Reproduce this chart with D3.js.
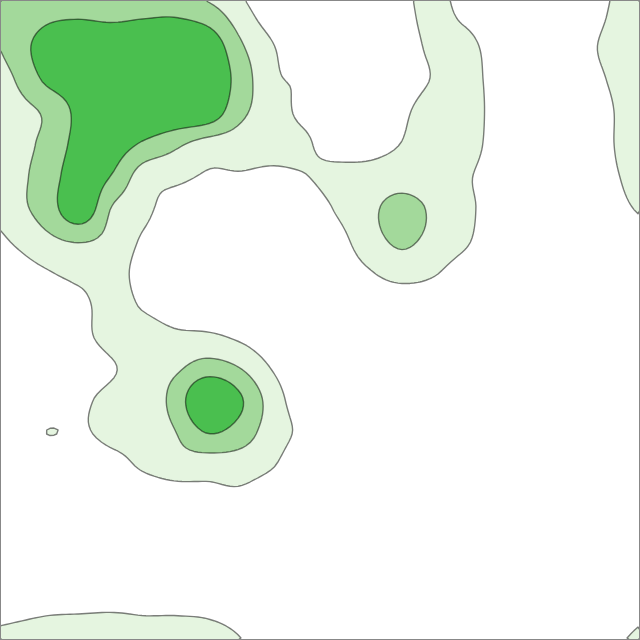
<!DOCTYPE html>
<html><head><meta charset="utf-8">
<script src="https://cdn.jsdelivr.net/npm/d3@7"></script>
<style>html,body{margin:0;padding:0;background:#fff}svg{display:block}</style>
</head><body>
<script>
const thresholds = [1, 2, 3];
const levelColors = ["#e5f5e0", "#a3d99b", "#4abf4f"];
const gridCols = 20, gridRows = 20;

const row00 = [2.3, 2.8, 2.9, 2.75, 2.9, 2.95, 2.55, 1.5, 0.5, 0.2, 0.1, 0.2, 0.5, 1.4, 0.8, 0.2, 0.1, 0.3, 0.7, 1.4];
const row01 = [2.5, 3.5, 3.8, 3.9, 4.0, 4.0, 3.8, 2.2, 1.1, 0.3, 0.1, 0.2, 0.4, 1.2, 1.4, 0.5, 0.1, 0.3, 0.9, 1.5];
const row02 = [2.05, 3.2, 3.6, 4.0, 4.0, 4.0, 3.9, 2.6, 1.2, 0.85, 0.2, 0.1, 0.3, 1.05, 1.5, 0.6, 0.1, 0.2, 0.7, 1.4];
const row03 = [1.6, 2.2, 3.3, 3.9, 4.0, 3.9, 3.7, 2.25, 1.5, 0.75, 0.3, 0.2, 0.7, 1.6, 1.7, 0.6, 0.1, 0.1, 0.4, 1.3];
const row04 = [1.6, 2.3, 3.35, 3.5, 2.85, 2.2, 1.6, 1.5, 1.4, 1.2, 0.4, 0.6, 1.0, 1.7, 1.7, 0.5, 0.1, 0.1, 0.4, 1.3];
const row05 = [1.7, 2.5, 3.6, 2.95, 1.5, 1.3, 0.88, 0.9, 0.78, 0.95, 1.4, 1.35, 1.55, 1.5, 1.2, 0.4, 0.1, 0.1, 0.4, 1.1];
const row06 = [1.7, 2.5, 3.8, 1.95, 1.3, 0.4, 0.2, 0.1, 0.1, 0.2, 1.1, 1.75, 2.3, 1.88, 1.3, 0.5, 0.1, 0.1, 0.3, 0.85];
const row07 = [1.15, 1.8, 2.1, 1.7, 0.85, 0.2, 0.1, 0.1, 0.1, 0.1, 0.6, 1.58, 2.15, 1.78, 1.2, 0.3, 0.1, 0.1, 0.1, 0.4];
const row08 = [0.5, 0.95, 1.3, 1.4, 0.6, 0.1, 0.1, 0.1, 0.1, 0.1, 0.3, 0.9, 1.45, 1.15, 0.5, 0.1, 0.1, 0.1, 0.1, 0.2];
const row09 = [0.2, 0.4, 0.75, 1.4, 0.85, 0.3, 0.1, 0.1, 0.1, 0.1, 0.1, 0.1, 0.2, 0.3, 0.1, 0.1, 0.1, 0.1, 0.1, 0.1];
const row10 = [0.1, 0.3, 0.7, 1.4, 1.5, 1.2, 1.15, 0.8, 0.3, 0.1, 0.1, 0.1, 0.1, 0.1, 0.1, 0.1, 0.1, 0.1, 0.1, 0.1];
const row11 = [0.1, 0.1, 0.3, 0.9, 1.5, 1.85, 2.45, 2.0, 0.95, 0.2, 0.1, 0.1, 0.1, 0.1, 0.1, 0.1, 0.1, 0.1, 0.1, 0.1];
const row12 = [0.1, 0.2, 0.75, 1.3, 1.4, 2.4, 4.3, 3.15, 1.55, 0.4, 0.1, 0.1, 0.1, 0.1, 0.1, 0.1, 0.1, 0.1, 0.1, 0.1];
const row13 = [0.4, 1.02, 0.85, 1.35, 1.4, 2.0, 3.07, 2.55, 1.5, 0.75, 0.1, 0.1, 0.1, 0.1, 0.1, 0.1, 0.1, 0.1, 0.1, 0.1];
const row14 = [0.1, 0.2, 0.2, 0.6, 1.2, 1.6, 1.5, 1.5, 1.1, 0.3, 0.1, 0.1, 0.1, 0.1, 0.1, 0.1, 0.1, 0.1, 0.1, 0.1];
const row15 = [0.1, 0.1, 0.1, 0.1, 0.3, 0.5, 0.7, 0.8, 0.4, 0.1, 0.1, 0.1, 0.1, 0.1, 0.1, 0.1, 0.1, 0.1, 0.1, 0.1];
const row16 = [0.2, 0.2, 0.2, 0.2, 0.2, 0.2, 0.2, 0.2, 0.1, 0.1, 0.1, 0.1, 0.1, 0.1, 0.1, 0.1, 0.1, 0.1, 0.1, 0.1];
const row17 = [0.3, 0.3, 0.3, 0.3, 0.3, 0.3, 0.3, 0.2, 0.1, 0.1, 0.1, 0.1, 0.1, 0.1, 0.1, 0.1, 0.1, 0.1, 0.1, 0.1];
const row18 = [0.5, 0.6, 0.6, 0.6, 0.6, 0.6, 0.5, 0.3, 0.1, 0.1, 0.1, 0.1, 0.1, 0.1, 0.1, 0.1, 0.1, 0.1, 0.1, 0.3];
const row19 = [1.03, 1.15, 1.2, 1.25, 1.15, 1.15, 1.1, 0.8, 0.2, 0.1, 0.1, 0.1, 0.1, 0.1, 0.1, 0.1, 0.1, 0.1, 0.3, 0.75];

const gridRowsData = [row00,row01,row02,row03,row04,row05,row06,row07,row08,row09,
                      row10,row11,row12,row13,row14,row15,row16,row17,row18,row19];

const width = 640, height = 640;
const upsample = 8;                       // rendering resolution only
const fineCols = gridCols * upsample, fineRows = gridRows * upsample;

// value lookup with linear extension past the grid edge
function rowValue(rc, c) {
  const r = gridRowsData[rc];
  if (c < 0) return r[0] + c * (r[1] - r[0]);
  if (c > gridCols - 1) return r[gridCols - 1] + (c - gridCols + 1) * (r[gridCols - 1] - r[gridCols - 2]);
  return r[c];
}
function at(r, c) {
  if (r < 0) return rowValue(0, c) + r * (rowValue(1, c) - rowValue(0, c));
  if (r > gridRows - 1) {
    const a = rowValue(gridRows - 1, c), b = rowValue(gridRows - 2, c);
    return a + (r - gridRows + 1) * (a - b);
  }
  return rowValue(r, c);
}
function cr(p0, p1, p2, p3, t) {
  const m1 = (p2 - p0) / 2, m2 = (p3 - p1) / 2;
  const t2 = t * t, t3 = t2 * t;
  return (2*t3 - 3*t2 + 1) * p1 + (t3 - 2*t2 + t) * m1 + (-2*t3 + 3*t2) * p2 + (t3 - t2) * m2;
}
function sample(u, v) {
  const c = Math.floor(u), r = Math.floor(v);
  const tu = u - c, tv = v - r;
  const rows = [];
  for (let k = -1; k <= 2; k++) {
    rows.push(cr(at(r+k, c-1), at(r+k, c), at(r+k, c+1), at(r+k, c+2), tu));
  }
  return cr(rows[0], rows[1], rows[2], rows[3], tv);
}

const fine = new Float64Array(fineCols * fineRows);
for (let j = 0; j < fineRows; j++) {
  for (let i = 0; i < fineCols; i++) {
    fine[j * fineCols + i] = sample((i + 0.5) / upsample - 0.5, (j + 0.5) / upsample - 0.5);
  }
}

const x = d3.scaleLinear().domain([0, fineCols]).range([0, width]);
const y = d3.scaleLinear().domain([0, fineRows]).range([0, height]);
const projection = d3.geoTransform({
  point(px, py) { this.stream.point(x(px), y(py)); }
});
const path = d3.geoPath(projection);
const color = d3.scaleOrdinal().domain(thresholds).range(levelColors);

const contours = d3.contours().size([fineCols, fineRows]).thresholds(thresholds)(fine);

const svg = d3.select("body").append("svg")
  .attr("width", width).attr("height", height)
  .attr("viewBox", [0, 0, width, height]);

svg.append("g")
  .selectAll("path")
  .data(contours)
  .join("path")
  .attr("d", path)
  .attr("fill", d => color(d.value))
  .attr("stroke", "#000")
  .attr("stroke-opacity", 0.5)
  .attr("stroke-width", 1.4)
  .attr("stroke-linejoin", "round");

svg.append("rect")
  .attr("x", 0.5).attr("y", 0.5)
  .attr("width", width - 1).attr("height", height - 1)
  .attr("fill", "none")
  .attr("stroke", "#888")
  .attr("stroke-width", 1);
</script>
</body></html>
